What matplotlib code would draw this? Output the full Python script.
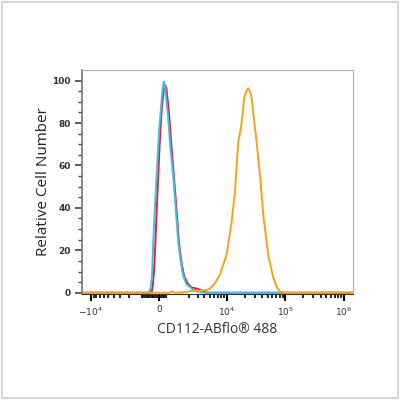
"""
Flow cytometry overlay histogram: CD112-ABflo 488 staining vs controls.
"""

import numpy as np
import matplotlib
matplotlib.use("Agg")
import matplotlib.pyplot as plt
from matplotlib.patches import Rectangle

# --- data (fluorescence intensity, relative cell number) ---------------
blue_x = [-14200, -700, -560, -500, -440, -380, -310, -220, -125, 0, 110,
          200, 273, 340, 420, 517, 650, 819, 1000, 1155, 1350, 1529, 1800,
          2460, 3000, 4000, 1.43e6]
blue_y = [0, 0, 0.3, 1, 3, 8, 24, 40, 55, 75, 87,
          96, 99.6, 97, 90, 82, 68, 55, 38, 24, 14, 8, 4,
          1.5, 0.5, 0, 0]

red_x = [-14200, -520, -400, -340, -270, -200, -90, 40, 160, 260, 345, 420,
         560, 700, 860, 1050, 1200, 1400, 1600, 1900, 2300, 2800, 3300,
         3900, 4500, 1.43e6]
red_y = [0, 0, 0.5, 3, 10, 22, 45, 70, 87, 95, 98, 96,
         85, 70, 55, 38, 24, 14, 8, 4.5, 2.5, 2, 1.5,
         0.5, 0, 0]

orange_x = [-14200, 600, 780, 950, 1800, 2150, 3330, 4470, 5050, 6200, 7550,
            9870, 12040, 13730, 15640, 17400, 18500, 19830, 21500, 23200,
            24800, 26540, 29000, 32300, 36800, 41900, 51000, 62100, 72000,
            80900, 98500, 1.43e6]
orange_y = [0, 0, 0.6, 0, 0.3, 0.8, 1.0, 1.3, 2, 4.5, 8.5,
            18, 33.5, 47.7, 71, 78, 84, 92, 95, 96.4,
            95, 91.7, 82, 71, 55.5, 36.6, 17.8, 7, 2.5,
            0.5, 0, 0]

xtick_vals = [-1e4, 0, 1e4, 1e5, 1e6]
xtick_labels = [r"$-10^{4}$", "0", r"$10^{4}$", r"$10^{5}$", r"$10^{6}$"]

# biexponential-like display transform
W = 1381.0


def fwd(x):
    return np.arcsinh(np.asarray(x, dtype=float) / W)


def inv(y):
    return np.sinh(np.asarray(y, dtype=float)) * W


fig = plt.figure(figsize=(4, 4), dpi=100)
fig.patches.append(Rectangle((0.005, 0.005), 0.99, 0.99, transform=fig.transFigure,
                             fill=False, edgecolor="#cfcfcf", linewidth=1.2))

ax = fig.add_axes([0.205, 0.265, 0.6775, 0.56])
ax.set_xscale("function", functions=(fwd, inv))

ax.plot(red_x, red_y, color="#e8202a", lw=1.4)
ax.plot(blue_x, blue_y, color="#3cc0ea", lw=1.4)
ax.plot(orange_x, orange_y, color="#f7a21b", lw=1.4)

ax.set_xlim(-14200, 1.43e6)
ax.set_ylim(-0.6, 105)

# x ticks
ax.set_xticks(xtick_vals)
ax.set_xticklabels(xtick_labels)
minor = ([-1000.0 * k for k in range(2, 10)] + [-100.0 * k for k in range(1, 11)]
         + [100.0 * k for k in range(1, 5)] + [1000.0 * k for k in range(2, 10)]
         + [1e4 * k for k in range(2, 10)] + [1e5 * k for k in range(2, 10)])
ax.set_xticks(minor, minor=True)
ax.tick_params(axis="x", which="major", length=5, width=1.5, color="black",
               labelsize=6.5, labelcolor="#333333", pad=3)
ax.tick_params(axis="x", which="minor", length=3, width=1.2, color="black")

# y ticks
ax.set_yticks(range(0, 101, 20))
ax.set_yticks(range(0, 101, 5), minor=True)
ax.tick_params(axis="y", which="major", length=5, width=1.2, color="#444444",
               labelsize=6.5, labelcolor="#333333", pad=3)
ax.tick_params(axis="y", which="minor", length=3, width=1.0, color="#444444")
for lab in ax.get_yticklabels():
    lab.set_fontweight("bold")

for side in ["top", "right"]:
    ax.spines[side].set_color("#b0b0b0")
ax.spines["left"].set_color("#777777")
ax.spines["left"].set_linewidth(1.2)
ax.spines["bottom"].set_color("#333333")

ax.set_xlabel("CD112-ABflo® 488", fontsize=10, color="#333333",
              family="Open Sans", labelpad=3)
ax.set_ylabel("Relative Cell Number", fontsize=11, color="#222222",
              family="Open Sans", labelpad=1)

fig.savefig("out.png", dpi=100)
